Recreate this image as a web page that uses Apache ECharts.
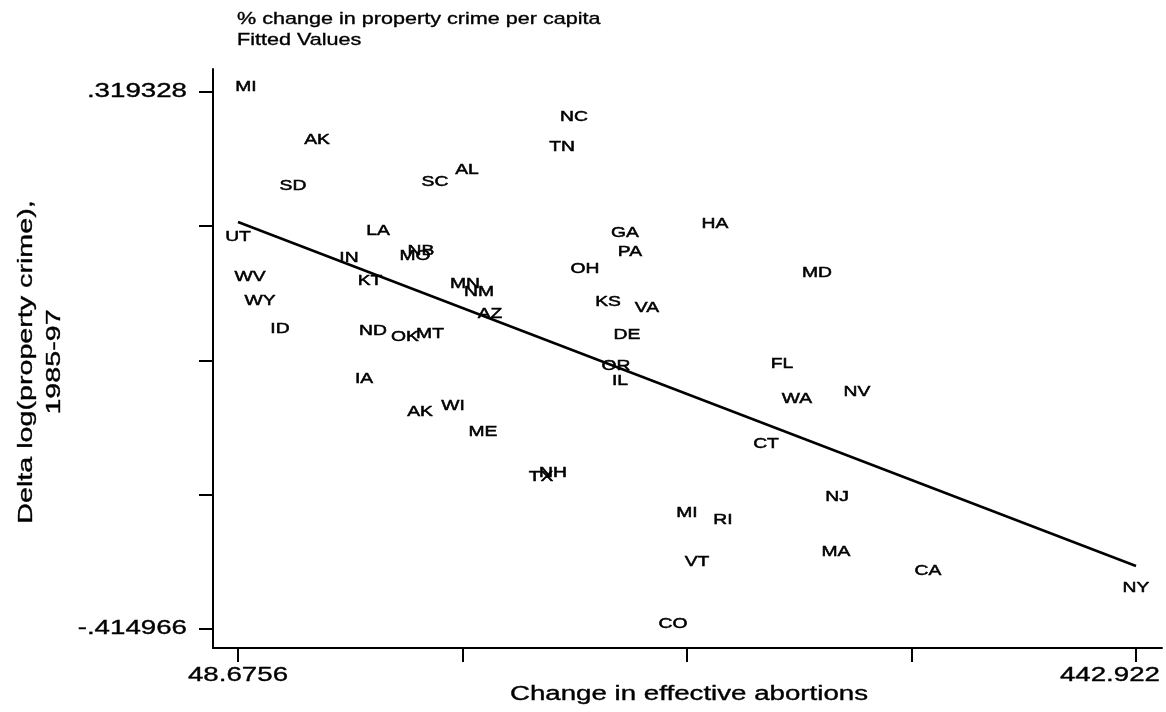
<!DOCTYPE html>
<html>
<head>
<meta charset="utf-8">
<script src="https://cdn.jsdelivr.net/npm/echarts@6/dist/echarts.min.js"></script>
<style>html,body{margin:0;padding:0;background:#fff}#c{width:1166px;height:712px}</style>
</head>
<body>
<div id="c"></div>
<script>
// ---- data ----
const states = ['MI','AK','SD','NC','TN','AL','SC','UT','LA','IN','NB','MO','KT','WV','WY','ID','MN','NM','AZ','ND','OK','MT','GA','PA','HA','OH','MD','KS','VA','DE','OR','IL','FL','WA','NV','IA','AK','WI','ME','CT','TX','NH','NJ','MI','RI','VT','MA','CA','NY','CO'];
const abortChange = [52.19, 83.36, 72.82, 196.19, 190.92, 149.21, 135.16, 48.6756, 110.14, 97.41, 129.02, 126.38, 106.63, 53.94, 58.33, 67.11, 148.33, 154.48, 159.31, 107.94, 121.99, 132.97, 218.58, 220.78, 258.09, 201.02, 302.88, 211.12, 228.24, 219.46, 214.63, 216.39, 287.51, 294.09, 320.44, 103.99, 128.58, 143.07, 156.24, 280.49, 181.70, 186.97, 311.66, 245.80, 261.61, 250.19, 311.22, 351.61, 442.922, 239.65];
const crimeChange = [0.319328, 0.24686, 0.18396, 0.27831, 0.23728, 0.20583, 0.18943, 0.11422, 0.12242, 0.0855, 0.09508, 0.08824, 0.05405, 0.05952, 0.02671, -0.01158, 0.04995, 0.03901, 0.00893, -0.01432, -0.02252, -0.01842, 0.11969, 0.09371, 0.132, 0.07046, 0.06499, 0.02534, 0.01713, -0.01979, -0.06217, -0.08269, -0.05944, -0.1073, -0.09773, -0.07995, -0.12508, -0.11687, -0.15242, -0.16883, -0.21396, -0.20849, -0.2413, -0.26318, -0.27275, -0.33019, -0.31651, -0.3425, -0.36574, -0.414966];
const fitX = [48.6756, 442.922];
const fitY = [0.14157, -0.32882];
const xTickVals = [48.6756, 147.2372, 245.7988, 344.3604, 442.922];
const yTickVals = [0.319328, 0.1357545, -0.047819, -0.2313925, -0.414966];
const xTickLabelVals = [48.6756, 442.922];
const xTickLabels = ['48.6756', '442.922'];
const yTickLabelVals = [0.319328, -0.414966];
const yTickLabels = ['.319328', '-.414966'];
const titleLines = ['% change in property crime per capita', 'Fitted Values'];
const xTitle = 'Change in effective abortions';
const yTitleLines = ['Delta log(property crime),', '1985-97'];

// ---- chart ----
const FONT = '"Liberation Sans", Arial, sans-serif';
const chart = echarts.init(document.getElementById('c'), null, {renderer: 'canvas'});
const axisCommon = {
  type: 'value',
  splitLine: {show: false},
  axisLabel: {show: false},
  axisLine: {show: true, onZero: false, lineStyle: {color: '#000', width: 2}},
};
chart.setOption({
  animation: false,
  backgroundColor: '#fff',
  grid: {left: 213, top: 69, width: 949, height: 579},
  xAxis: Object.assign({}, axisCommon, {
    min: 37.700, max: 454.337,
    axisTick: {show: true, inside: false, length: 14, lineStyle: {color: '#000', width: 2}, customValues: xTickVals}
  }),
  yAxis: Object.assign({}, axisCommon, {
    min: -0.440947, max: 0.350778,
    axisTick: {show: true, inside: false, length: 14, lineStyle: {color: '#000', width: 2}, customValues: yTickVals}
  }),
  series: [
    {
      type: 'line',
      data: fitX.map((x, i) => [x, fitY[i]]),
      symbol: 'none',
      lineStyle: {color: '#000', width: 2.5},
      z: 2
    },
    {
      type: 'custom',
      data: abortChange.map((x, i) => [x, crimeChange[i]]),
      renderItem: function (params, api) {
        const p = api.coord([api.value(0), api.value(1)]);
        return {
          type: 'text',
          x: p[0], y: p[1] - 5,
          scaleX: 1.33,
          style: {
            text: states[params.dataIndex],
            fontSize: 14.5, fontFamily: FONT,
            fill: '#000', stroke: '#000', lineWidth: 0.5,
            align: 'center', verticalAlign: 'middle'
          }
        };
      },
      z: 3
    }
  ]
});

const g = [];
function txt(x, y, text, size, sx, align, rot) {
  g.push({
    type: 'text', x: x, y: y, scaleX: sx, rotation: rot || 0,
    style: {text: text, fontSize: size, fontFamily: FONT, fill: '#000', stroke: '#000', lineWidth: 0.35, align: align, verticalAlign: 'middle'}
  });
}
// title lines
txt(237, 19, titleLines[0], 17, 1.27, 'left');
txt(237, 40, titleLines[1], 17, 1.27, 'left');
// y tick labels
yTickLabelVals.forEach((v, i) => {
  const p = chart.convertToPixel({yAxisIndex: 0}, v);
  txt(187, p, yTickLabels[i], 19.5, 1.42, 'right');
});
// x tick labels
xTickLabelVals.forEach((v, i) => {
  const p = chart.convertToPixel({xAxisIndex: 0}, v);
  if (i === xTickLabelVals.length - 1) txt(p + 24, 676, xTickLabels[i], 19.5, 1.42, 'right');
  else txt(p, 676, xTickLabels[i], 19.5, 1.42, 'center');
});
// axis titles
txt(689, 695, xTitle, 19.5, 1.42, 'center');
txt(27, 362, yTitleLines[0], 19.5, 1.47, 'center', Math.PI / 2);
txt(55, 362, yTitleLines[1], 19.5, 1.47, 'center', Math.PI / 2);
chart.setOption({graphic: g});
</script>
</body>
</html>
